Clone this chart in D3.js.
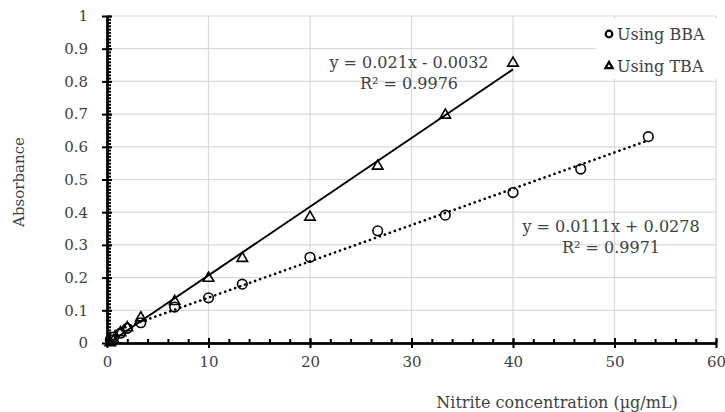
<!DOCTYPE html>
<html lang="en">
<head>
    <meta charset="UTF-8">
    <script src="https://cdn.jsdelivr.net/npm/d3@7"></script>
    <title>Nitrite calibration</title>
    <style>
        body { margin: 0; background: white; }
        text { font-family: "DejaVu Serif", serif; fill: #404040; }
        .grid line { stroke: #d9d9d9; stroke-width: 1.2px; }
        .axis path, .axis line { stroke: black; stroke-width: 2px; }
    </style>
</head>
<body>
    <div id="chart"></div>
    <script>
        const concBBA = [0.33, 0.67, 1.33, 2, 3.33, 6.67, 10, 13.33, 20, 26.67, 33.33, 40, 46.67, 53.33];
        const absBBA = [0.010, 0.018, 0.030, 0.045, 0.062, 0.110, 0.138, 0.180, 0.262, 0.343, 0.391, 0.460, 0.532, 0.631];
        const concTBA = [0.33, 0.67, 1.33, 2, 3.33, 6.67, 10, 13.33, 20, 26.67, 33.33, 40];
        const absTBA = [0.004, 0.012, 0.035, 0.050, 0.080, 0.130, 0.201, 0.262, 0.388, 0.544, 0.700, 0.859];
        const fitBBA = { slope: 0.0111, intercept: 0.0278, eq: "y = 0.0111x + 0.0278", r2: "R² = 0.9971" };
        const fitTBA = { slope: 0.021, intercept: -0.0032, eq: "y = 0.021x - 0.0032", r2: "R² = 0.9976" };
        const legendNames = ["Using BBA", "Using TBA"];
        const xTicks = [0, 10, 20, 30, 40, 50, 60];
        const yTicks = [0, 0.1, 0.2, 0.3, 0.4, 0.5, 0.6, 0.7, 0.8, 0.9, 1];

        const width = 725, height = 412;
        const svg = d3.select("#chart").append("svg")
            .attr("width", width)
            .attr("height", height);

        const x = d3.scaleLinear().domain([0, 60]).range([107, 716]);
        const y = d3.scaleLinear().domain([0, 1]).range([343, 16]);

        // gridlines
        svg.append("g").attr("class", "grid")
            .selectAll("line").data(yTicks.slice(1)).enter().append("line")
            .attr("x1", x(0)).attr("x2", x(60))
            .attr("y1", d => y(d)).attr("y2", d => y(d));
        svg.append("g").attr("class", "grid")
            .selectAll("line").data(xTicks.slice(1)).enter().append("line")
            .attr("y1", y(0)).attr("y2", y(1))
            .attr("x1", d => x(d)).attr("x2", d => x(d));

        // legend box hides the grid behind it
        svg.append("rect")
            .attr("x", 596).attr("y", 19)
            .attr("width", 122).attr("height", 60)
            .attr("fill", "white");

        // trendlines
        const trend = (fit, xs) => d3.extent(xs).map(v => [v, fit.slope * v + fit.intercept]);
        const line = d3.line().x(d => x(d[0])).y(d => y(d[1]));

        svg.append("path")
            .attr("d", line(trend(fitTBA, concTBA)))
            .attr("fill", "none").attr("stroke", "black").attr("stroke-width", 2);
        svg.append("path")
            .attr("d", line(trend(fitBBA, concBBA)))
            .attr("fill", "none").attr("stroke", "black").attr("stroke-width", 2.6)
            .attr("stroke-dasharray", "0.1 5.2").attr("stroke-linecap", "round");

        // markers
        const tri = d3.symbol().type(d3.symbolTriangle).size(48);
        svg.append("g").selectAll("circle")
            .data(d3.zip(concBBA, absBBA)).enter().append("circle")
            .attr("cx", d => x(d[0])).attr("cy", d => y(d[1]))
            .attr("r", 4.8)
            .attr("fill", "none").attr("stroke", "black").attr("stroke-width", 1.6);
        svg.append("g").selectAll("path")
            .data(d3.zip(concTBA, absTBA)).enter().append("path")
            .attr("d", tri)
            .attr("transform", d => `translate(${x(d[0])},${y(d[1]) + 1})`)
            .attr("fill", "none").attr("stroke", "black").attr("stroke-width", 1.6);

        // axes
        const yAxis = svg.append("g").attr("class", "axis")
            .attr("transform", `translate(${x(0)},0)`);
        yAxis.call(d3.axisRight(y).tickValues(d3.range(0, 1.001, 0.01)).tickSize(4).tickFormat("").tickSizeOuter(0));
        yAxis.call(g => g.append("g").call(d3.axisRight(y).tickValues(yTicks).tickSize(5).tickFormat("").tickSizeOuter(0)));
        yAxis.append("g").call(d3.axisLeft(y).tickValues(yTicks).tickSize(5).tickPadding(14)
            .tickFormat(d => +d.toFixed(1)).tickSizeOuter(0));

        const xAxis = svg.append("g").attr("class", "axis")
            .attr("transform", `translate(0,${y(0)})`);
        xAxis.call(d3.axisTop(x).tickValues(d3.range(0, 61, 2)).tickSize(4).tickFormat("").tickSizeOuter(0));
        xAxis.append("g").call(d3.axisTop(x).tickValues(xTicks).tickSize(5).tickFormat("").tickSizeOuter(0));
        xAxis.append("g").call(d3.axisBottom(x).tickValues(xTicks).tickSize(5).tickPadding(8).tickSizeOuter(0));

        svg.selectAll(".axis text")
            .style("font-family", '"DejaVu Serif", serif')
            .style("font-size", "15px")
            .attr("fill", "#404040");

        // axis titles
        svg.append("text")
            .attr("x", 557).attr("y", 402)
            .attr("dy", "0.35em")
            .attr("text-anchor", "middle")
            .style("font-size", "16px")
            .text("Nitrite concentration (µg/mL)");
        svg.append("text")
            .attr("transform", "translate(19,182) rotate(-90)")
            .attr("dy", "0.35em")
            .attr("text-anchor", "middle")
            .style("font-size", "15px")
            .text("Absorbance");

        // equations
        const eqs = [
            { fit: fitTBA, cx: 409, cy: 62 },
            { fit: fitBBA, cx: 611, cy: 226 }
        ];
        eqs.forEach(e => {
            svg.append("text").attr("x", e.cx).attr("y", e.cy).attr("dy", "0.35em")
                .attr("text-anchor", "middle").style("font-size", "16px").text(e.fit.eq);
            svg.append("text").attr("x", e.cx).attr("y", e.cy + 21).attr("dy", "0.35em")
                .attr("text-anchor", "middle").style("font-size", "16px").text(e.fit.r2);
        });

        // legend
        const leg = svg.append("g").attr("transform", "translate(609,0)");
        leg.append("circle").attr("cx", 0).attr("cy", 34).attr("r", 3.3)
            .attr("fill", "none").attr("stroke", "black").attr("stroke-width", 2.2);
        leg.append("path").attr("d", d3.symbol().type(d3.symbolTriangle).size(22))
            .attr("transform", "translate(0,66)")
            .attr("fill", "none").attr("stroke", "black").attr("stroke-width", 2.2);
        legendNames.forEach((n, i) => {
            leg.append("text").attr("x", 8).attr("y", 34 + i * 32).attr("dy", "0.35em")
                .style("font-size", "16px").attr("fill", "#262626").text(n);
        });
    </script>
</body>
</html>
